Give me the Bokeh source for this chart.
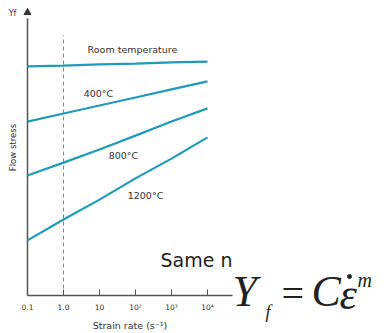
from bokeh.plotting import figure
from bokeh.models import FixedTicker, Label
from bokeh.embed import file_html
from bokeh.resources import INLINE
import math

# ---- data ----
tick_pos = [0, 1, 2, 3, 4, 5]
tick_labels = ["0.1", "1.0", "10", "10²", "10³", "10⁴"]
x_vals = [0, 1, 2, 3, 4, 5]
room_temp = [79.8, 80.1, 80.5, 80.8, 81.2, 81.5]
t400 = [60.6, 63.4, 66.2, 69.0, 71.8, 74.6]
t800 = [41.8, 46.3, 50.9, 55.7, 60.6, 65.2]
t1200 = [19.2, 26.5, 33.4, 40.8, 47.7, 55.1]
series_names = ["Room temperature", "400°C", "800°C", "1200°C"]
ref_rate = 1  # position of 1.0 s^-1 dashed line

LINE = "#1f9ab8"
AX = "#555555"
TXT = "#333333"
SANS = "DejaVu Sans"
SERIF = "Liberation Serif"

W, H = 375, 330
X0PX, DX = 27, 36.0     # pixel of x=0 and pixels per unit
Y0PX, DY = 295, 2.87    # pixel of y=0 and pixels per unit

p = figure(width=W, height=H,
           x_range=(-X0PX / DX, (W - X0PX) / DX),
           y_range=(-(H - Y0PX) / DY, Y0PX / DY),
           output_backend="svg", toolbar_location=None,
           min_border_left=0, min_border_right=0, min_border_top=0, min_border_bottom=0)
p.outline_line_color = None
p.xgrid.visible = False
p.ygrid.visible = False
p.yaxis.visible = False
p.background_fill_color = "white"

xa = p.xaxis[0]
xa.fixed_location = 0
xa.bounds = (0, 5.7)
xa.ticker = FixedTicker(ticks=tick_pos)
xa.major_label_overrides = {t: l for t, l in zip(tick_pos, tick_labels)}
xa.major_tick_in = 6
xa.major_tick_out = 0
xa.minor_tick_line_color = None
xa.axis_line_color = AX
xa.axis_line_width = 1.5
xa.major_tick_line_color = AX
xa.major_label_text_font = SANS
xa.major_label_text_font_size = "7.5px"
xa.major_label_text_color = TXT
xa.major_label_standoff = 7
xa.axis_label = "Strain rate (s⁻¹)"
xa.axis_label_text_font = SANS
xa.axis_label_text_font_style = "normal"
xa.axis_label_text_font_size = "9.5px"
xa.axis_label_text_color = TXT
xa.axis_label_standoff = 5

# y axis line with arrow
y_top = 98.6
p.segment(x0=[0], y0=[0], x1=[0], y1=[y_top - 2], line_color=AX, line_width=1.5)
p.scatter(x=[0], y=[y_top], marker="triangle", size=7, color="#333333")

# dashed reference line at 1.0 s^-1
p.segment(x0=[ref_rate], y0=[0], x1=[ref_rate], y1=[90.6], line_color="#888888",
          line_width=1, line_dash="4 3")

for ys in [room_temp, t400, t800, t1200]:
    p.line(x_vals, ys, line_color=LINE, line_width=2.2)


def lab(x, y, text, size="9px", font=SANS, style="normal", align="center",
        baseline="middle", angle=0, color=TXT):
    p.add_layout(Label(x=x, y=y, text=text, text_font=font, text_font_size=size,
                       text_font_style=style, text_align=align, text_baseline=baseline,
                       angle=angle, text_color=color))


def fx(px):
    return (px - X0PX) / DX


def fy(py):
    return (Y0PX - py) / DY


lab(fx(132), fy(49), series_names[0], size="9.5px")
lab(fx(98), fy(93), series_names[1], size="9.5px")
lab(fx(123), fy(155), series_names[2], size="9.5px")
lab(fx(145), fy(195), series_names[3], size="9.5px")
lab(fx(12), fy(13), "Yf", size="8px")
lab(fx(12), fy(147), "Flow stress", size="8.5px", angle=math.pi / 2)
lab(fx(196), fy(259), "Same n", size="19px", color="#222222")

# formula Y_f = C ε̇^m
F = "#222222"
lab(fx(232), fy(291), "Y", size="44px", font=SERIF, style="italic", align="left", color=F)
lab(fx(265), fy(311), "f", size="18px", font=SERIF, style="italic", align="left", color=F)
lab(fx(281), fy(293), "=", size="40px", font=SERIF, align="left", color=F)
lab(fx(311), fy(291), "C", size="44px", font=SERIF, style="italic", align="left", color=F)
lab(fx(339), fy(294), "ε", size="44px", font=SERIF, style="italic", align="left", color=F)
lab(fx(357), fy(279), "m", size="20px", font=SERIF, style="italic", align="left", color=F)
p.scatter(x=[fx(349)], y=[fy(276)], marker="circle", size=4, color=F)

open("out.html", "w").write(file_html(p, INLINE))
